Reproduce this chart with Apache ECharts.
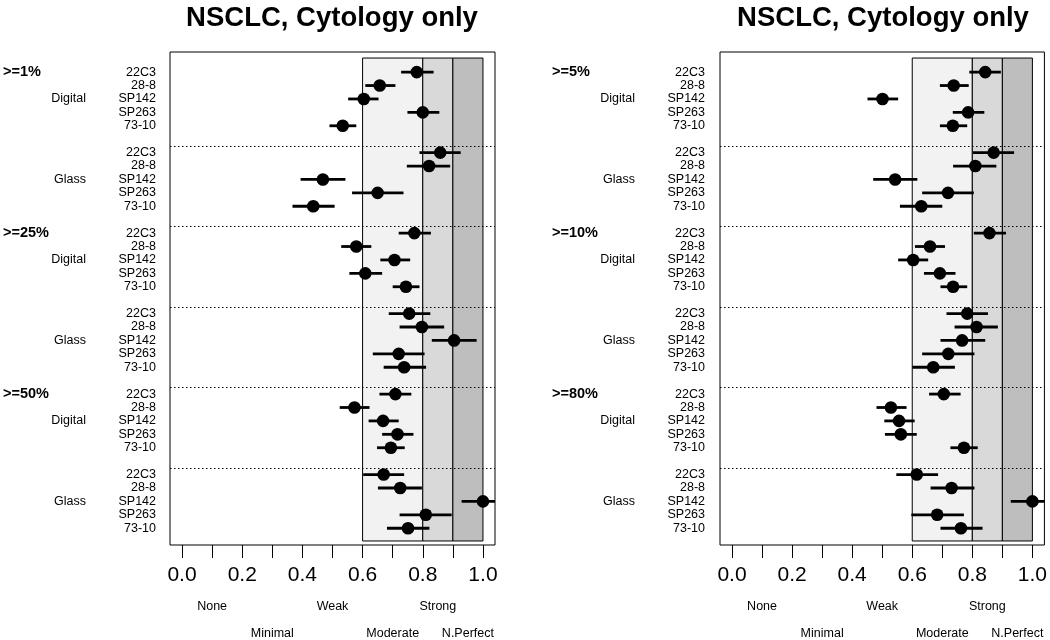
<!DOCTYPE html>
<html>
<head>
<meta charset="utf-8">
<script src="https://cdn.jsdelivr.net/npm/echarts@6/dist/echarts.min.js"></script>
<style>
  html, body { margin: 0; padding: 0; background: #fff; }
  #chart { width: 1050px; height: 640px; }
</style>
</head>
<body>
<div id="chart"></div>
<script>
// ---- data ----
const chartTitle = 'NSCLC, Cytology only'
const markers = ['22C3', '28-8', 'SP142', 'SP263', '73-10']
const modes = ['Digital', 'Glass']
const leftThresholds = ['>=1%', '>=25%', '>=50%']
const rightThresholds = ['>=5%', '>=10%', '>=80%']

// rows: >=t Digital, >=t Glass for each threshold (top to bottom)
const leftEst = [
  [0.780, 0.657, 0.604, 0.800, 0.534],
  [0.858, 0.821, 0.468, 0.650, 0.436],
  [0.772, 0.579, 0.706, 0.609, 0.744],
  [0.755, 0.797, 0.904, 0.720, 0.738],
  [0.709, 0.573, 0.668, 0.716, 0.694],
  [0.670, 0.725, 1.000, 0.810, 0.751]
]
const leftLow = [
  [0.728, 0.609, 0.552, 0.749, 0.490],
  [0.789, 0.747, 0.394, 0.565, 0.367],
  [0.720, 0.529, 0.659, 0.556, 0.700],
  [0.687, 0.723, 0.830, 0.634, 0.670],
  [0.656, 0.524, 0.620, 0.665, 0.648],
  [0.602, 0.651, 0.929, 0.723, 0.681]
]
const leftHigh = [
  [0.836, 0.709, 0.653, 0.855, 0.579],
  [0.926, 0.891, 0.543, 0.736, 0.507],
  [0.827, 0.629, 0.758, 0.665, 0.789],
  [0.825, 0.871, 0.979, 0.806, 0.811],
  [0.762, 0.623, 0.720, 0.769, 0.740],
  [0.738, 0.797, 1.070, 0.896, 0.822]
]
const rightEst = [
  [0.843, 0.738, 0.501, 0.786, 0.735],
  [0.871, 0.810, 0.543, 0.719, 0.630],
  [0.857, 0.659, 0.603, 0.692, 0.736],
  [0.783, 0.814, 0.766, 0.720, 0.670],
  [0.705, 0.529, 0.556, 0.562, 0.772],
  [0.615, 0.731, 1.000, 0.683, 0.762]
]
const rightLow = [
  [0.790, 0.692, 0.451, 0.735, 0.692],
  [0.802, 0.736, 0.470, 0.633, 0.559],
  [0.805, 0.609, 0.553, 0.639, 0.694],
  [0.714, 0.741, 0.694, 0.633, 0.600],
  [0.656, 0.481, 0.507, 0.509, 0.727],
  [0.547, 0.661, 0.928, 0.597, 0.694]
]
const rightHigh = [
  [0.895, 0.788, 0.553, 0.840, 0.783],
  [0.939, 0.880, 0.617, 0.805, 0.700],
  [0.912, 0.709, 0.653, 0.744, 0.783],
  [0.852, 0.885, 0.843, 0.807, 0.742],
  [0.761, 0.581, 0.608, 0.615, 0.818],
  [0.686, 0.807, 1.070, 0.772, 0.834]
]

// agreement bands and kappa scale names
const bandEdges = [0.6, 0.8, 0.9, 1.0]
const xTicks = [0, 0.1, 0.2, 0.3, 0.4, 0.5, 0.6, 0.7, 0.8, 0.9, 1.0]
const xTickLabels = [0, 0.2, 0.4, 0.6, 0.8, 1.0]
const scaleNamesUpper = ['None', 'Weak', 'Strong']
const scaleAtUpper = [0.1, 0.5, 0.85]
const scaleNamesLower = ['Minimal', 'Moderate', 'N.Perfect']
const scaleAtLower = [0.3, 0.7, 0.95]

// ---- layout / style ----
const FONT = 'Liberation Sans, Arial, sans-serif'
const bandColors = ['#f2f2f2', '#d9d9d9', '#bebebe']
const ROWS_PER_THRESHOLD = 12   // 5 digital + blank + 5 glass + blank
const GLASS_OFFSET = 6
const shadeTop = -1.05
const shadeBottom = 34.95

const rowOf = (t, m, k) => t * ROWS_PER_THRESHOLD + m * GLASS_OFFSET + k

const markerRows = []
const markerRowName = {}
const modeRows = []
const modeRowName = {}
const thresholdRows = []
const separatorRows = []
for (let t = 0; t < 3; t++) {
  for (let m = 0; m < 2; m++) {
    markers.forEach((name, k) => {
      markerRows.push(rowOf(t, m, k))
      markerRowName[rowOf(t, m, k)] = name
    })
    modeRows.push(rowOf(t, m, 2))
    modeRowName[rowOf(t, m, 2)] = modes[m]
    if (!(t === 2 && m === 1)) separatorRows.push(rowOf(t, m, 5.5))
  }
  thresholdRows.push(rowOf(t, 0, 0))
}

const buildPoints = (est, low, high) => {
  const out = []
  est.forEach((grp, g) => {
    const t = Math.floor(g / 2), m = g % 2
    grp.forEach((v, k) => out.push([low[g][k], high[g][k], v, rowOf(t, m, k)]))
  })
  return out
}

const nearestName = (v, at, names) => {
  const i = at.findIndex(a => Math.abs(a - v) < 1e-6)
  return i < 0 ? '' : names[i]
}

const panels = [
  { left: 169, right: 555, centre: 327, thresholds: leftThresholds, pts: buildPoints(leftEst, leftLow, leftHigh), lm: 14, mm: 84, tm: 167 },
  { left: 720, right: 4, centre: 878, thresholds: rightThresholds, pts: buildPoints(rightEst, rightLow, rightHigh), lm: 15, mm: 85, tm: 168 }
]

const grid = [], xAxis = [], yAxis = [], series = [], title = []
panels.forEach((p, i) => {
  grid.push({ left: p.left, right: p.right, top: 52, bottom: 95, show: true, borderColor: '#000', borderWidth: 1, backgroundColor: 'transparent' })
  title.push({ text: chartTitle, left: p.centre, top: -1, textAlign: 'center',
    textStyle: { fontFamily: FONT, fontSize: 27.5, fontWeight: 'bold', color: '#000' } })

  const baseX = { type: 'value', gridIndex: i, min: -0.04, max: 1.04, position: 'bottom', splitLine: { show: false }, axisLine: { show: false, onZero: false } }
  xAxis.push({ ...baseX,
    axisTick: { show: true, length: 13, customValues: xTicks, lineStyle: { color: '#000', width: 1 } },
    axisLabel: { customValues: xTickLabels, formatter: v => v.toFixed(1), fontFamily: FONT, fontSize: 21, color: '#000', margin: 20 } })
  xAxis.push({ ...baseX, axisTick: { show: false },
    axisLabel: { customValues: scaleAtUpper, formatter: v => nearestName(v, scaleAtUpper, scaleNamesUpper), fontFamily: FONT, fontSize: 12.5, color: '#000', margin: 55 } })
  xAxis.push({ ...baseX, axisTick: { show: false },
    axisLabel: { customValues: scaleAtLower, formatter: v => nearestName(v, scaleAtLower, scaleNamesLower), fontFamily: FONT, fontSize: 12.5, color: '#000', margin: 82 } })

  const baseY = { type: 'value', gridIndex: i, inverse: true, min: -1.5, max: 35.25, position: 'left', splitLine: { show: false }, axisLine: { show: false, onZero: false }, axisTick: { show: false } }
  yAxis.push({ ...baseY, axisLabel: { customValues: markerRows, formatter: v => markerRowName[Math.round(v)] || '', fontFamily: FONT, fontSize: 12.5, color: '#000', margin: p.lm } })
  yAxis.push({ ...baseY, axisLabel: { customValues: modeRows, formatter: v => modeRowName[Math.round(v)] || '', fontFamily: FONT, fontSize: 12.5, color: '#000', margin: p.mm } })
  yAxis.push({ ...baseY, axisLabel: { customValues: thresholdRows, formatter: v => p.thresholds[thresholdRows.indexOf(Math.round(v))] || '', align: 'left', fontFamily: FONT, fontSize: 14.5, fontWeight: 'bold', color: '#000', margin: p.tm } })

  const xi = i * 3, yi = i * 3

  // shaded agreement bands
  series.push({
    type: 'custom', xAxisIndex: xi, yAxisIndex: yi, z: 1, silent: true,
    data: bandEdges.slice(0, -1).map((lo, b) => [lo, bandEdges[b + 1]]),
    renderItem: (params, api) => {
      const p1 = api.coord([api.value(0), shadeTop])
      const p2 = api.coord([api.value(1), shadeBottom])
      return { type: 'rect', shape: { x: p1[0], y: p1[1], width: p2[0] - p1[0], height: p2[1] - p1[1] },
        style: { fill: bandColors[params.dataIndex], stroke: '#000', lineWidth: 1 } }
    }
  })

  // dotted separators between groups
  series.push({
    type: 'custom', xAxisIndex: xi, yAxisIndex: yi, z: 2, silent: true,
    data: separatorRows.map(r => [0, r]),
    encode: { x: 0, y: 1 },
    renderItem: (params, api) => {
      const cs = params.coordSys
      const y = Math.round(api.coord([0, api.value(1)])[1]) + 0.5
      return { type: 'line', shape: { x1: cs.x, y1: y, x2: cs.x + cs.width, y2: y },
        style: { stroke: '#000', lineWidth: 1, lineDash: [1.5, 2.5] } }
    }
  })

  // estimates with confidence intervals
  series.push({
    type: 'custom', xAxisIndex: xi, yAxisIndex: yi, z: 3, clip: true,
    data: p.pts,
    encode: { x: [0, 1, 2], y: 3 },
    renderItem: (params, api) => {
      const cs = params.coordSys
      const y = api.value(3)
      const a = api.coord([api.value(0), y])
      const b = api.coord([api.value(1), y])
      const c = api.coord([api.value(2), y])
      const x2 = Math.min(b[0], cs.x + cs.width)
      return { type: 'group', children: [
        { type: 'line', shape: { x1: a[0], y1: a[1], x2: x2, y2: b[1] }, style: { stroke: '#000', lineWidth: 2.8 } },
        { type: 'circle', shape: { cx: c[0], cy: c[1], r: 6.3 }, style: { fill: '#000' } }
      ] }
    }
  })
})

const myChart = echarts.init(document.getElementById('chart'), null, { renderer: 'canvas' })
myChart.setOption({
  animation: false,
  backgroundColor: '#fff',
  title,
  grid,
  xAxis,
  yAxis,
  series
})
</script>
</body>
</html>
